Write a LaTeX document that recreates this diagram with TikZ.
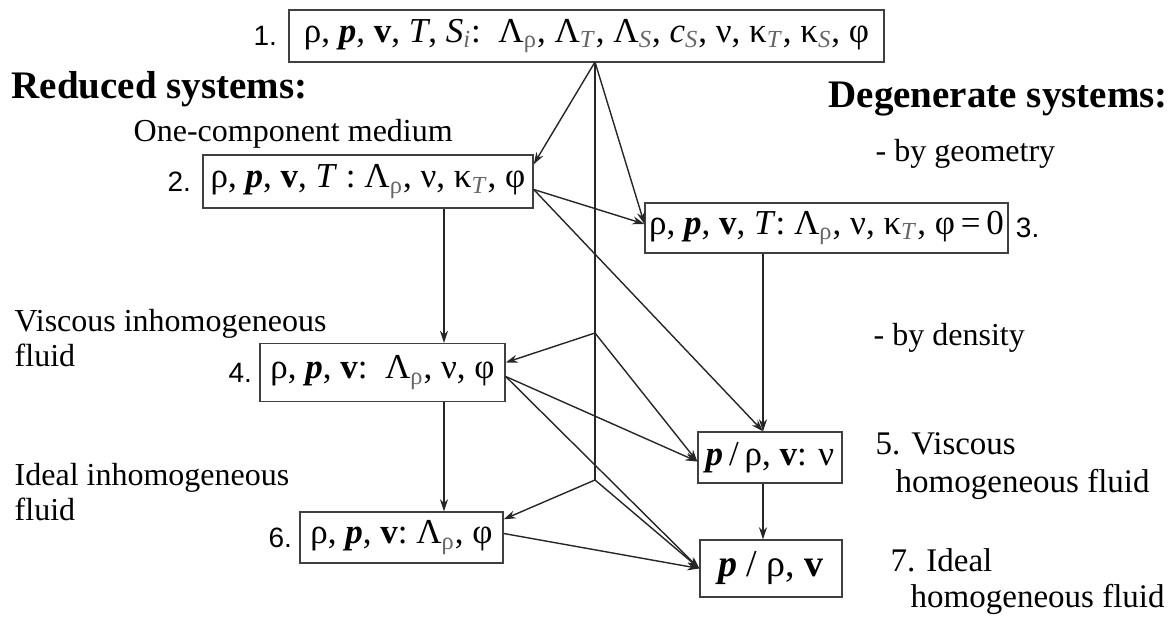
\documentclass[tikz,border=0pt]{standalone}
\usepackage{fontspec}
\setmainfont{Liberation Serif}
\newfontfamily\numfont{Liberation Sans}
\usetikzlibrary{arrows.meta}
\newcommand{\lowix}[1]{\textsubscript{\textcolor{black!60}{#1}}}
\newcommand{\bp}{\textbf{\textit{p}}}
\newcommand{\bv}{\textbf{v}}

\begin{document}
\begin{tikzpicture}[x=0.5pt,y=-0.5pt,>={Stealth[length=6pt,width=4pt]}, line width=0.7pt]
    \tikzset{
        state/.style = {draw=black!75, line width=0.7pt, rectangle, inner sep=2pt, font=\fontsize{17.5}{20}\selectfont},
        numlbl/.style = {font=\numfont\fontsize{14}{16}\selectfont},
        note/.style = {font=\fontsize{16}{18}\selectfont, inner sep=0pt, anchor=base west},
        rnote/.style = {note, font=\fontsize{16.5}{18}\selectfont},
        head/.style = {font=\bfseries\fontsize{19.5}{22}\selectfont, inner sep=0pt, anchor=base west},
        arr/.style = {->, black!85},
        spine/.style = {line width=1.3pt, black!85}
    }
    \useasboundingbox (0,0) rectangle (1168,619);

    % Headings
    \node[head] (hred) at (11,99) {Reduced systems:};
    \node[head] (hdeg) at (828,108) {Degenerate systems:};

    % Side notes
    \node[note] (tone) at (133,142) {One-component medium};
    \node[note] (tgeo) at (875,162) {- by geometry};
    \node[note] (tden) at (873,346) {- by density};
    \node[note] (tvisa) at (14,332) {Viscous inhomogeneous};
    \node[note] (tvisb) at (14,367) {fluid};
    \node[note] (tidea) at (14,486) {Ideal inhomogeneous};
    \node[note] (tideb) at (14,521) {fluid};
    \node[rnote] (tfivea) at (875,455) {5. Viscous};
    \node[rnote] (tfiveb) at (895,493) {homogeneous fluid};
    \node[rnote] (tsevena) at (890,572) {7. Ideal};
    \node[rnote] (tsevenb) at (910,608) {homogeneous fluid};

    % States
    \node[state, minimum width=297.5pt, minimum height=26pt] (n1) at (586.5,36)
        {ρ, \bp, \bv, \textit{T}, \textit{S}\lowix{\textit{i}}:\ \ Λ\lowix{ρ}, Λ\lowix{\textit{T}}, Λ\lowix{\textit{S}}, \textit{c}\lowix{\textit{S}}, ν, κ\lowix{\textit{T}}, κ\lowix{\textit{S}}, φ};
    \node[state, minimum width=165pt, minimum height=26.5pt] (n2) at (368,181.5)
        {ρ, \bp, \bv, \textit{T}\ :\ Λ\lowix{ρ}, ν, κ\lowix{\textit{T}}, φ};
    \node[state, minimum width=173.5pt, minimum height=25pt] (n3) at (826.5,228)
        {ρ, \bp, \bv, \textit{T}: Λ\lowix{ρ}, ν, κ\lowix{\textit{T}}, φ\,=\,0};
    \node[state, minimum width=122.5pt, minimum height=29pt] (n4) at (382.5,372.5)
        {ρ, \bp, \bv:\ \ Λ\lowix{ρ}, ν, φ};
    \node[state, minimum width=72pt, minimum height=25.5pt] (n5) at (770,457.5)
        {\bp\,/\,ρ, \bv: ν};
    \node[state, minimum width=101.5pt, minimum height=25.5pt] (n6) at (401.5,537.5)
        {ρ, \bp, \bv:\ Λ\lowix{ρ}, φ};
    \node[state, minimum width=71pt, minimum height=28.5pt, font=\fontsize{19}{21}\selectfont] (n7) at (771,568.5)
        {\bp\ /\ ρ,\ \bv};

    % Numbers
    \node[numlbl, anchor=east, xshift=-2pt] (l1) at (n1.west) {1.};
    \node[numlbl, anchor=east, xshift=-2pt] (l2) at (n2.west) {2.};
    \node[numlbl, anchor=west] (l3) at (n3.east) {3.};
    \node[numlbl, anchor=east] (l4) at (n4.west) {4.};
    \node[numlbl, anchor=east] (l6) at (n6.west) {6.};

    % Junction points
    \coordinate (top) at (595,62);
    \coordinate (j1) at (595,333);
    \coordinate (j2) at (595,480);
    \coordinate (lcol) at (444,0);
    \coordinate (in5) at ([xshift=-3.5pt]n5.north);

    % Spine
    \draw[spine] (top) -- (j1) -- (j2);

    % From 1
    \draw[arr] (top) -- ([yshift=-5pt]n2.north east);
    \draw[arr] (top) -- ([yshift=2pt]n3.west);

    % From 2
    \draw[arr] ([yshift=-4pt]n2.east) -- ([yshift=2pt]n3.west);
    \draw[arr] ([yshift=-4pt]n2.east) -- (in5);
    \draw[arr] (n2.south -| lcol) -- (n4.north -| lcol);

    % From 3
    \draw[arr] (n3.south -| in5) -- (in5);

    % Spine branches
    \draw[arr] (j1) -- ([yshift=5pt]n4.east);
    \draw[arr] (j1) -- ([yshift=-2pt]n5.west);
    \draw[arr] (j2) -- ([yshift=-4pt]n6.north east);
    \draw[arr] (j2) -- (n7.west);

    % From 4, 5, 6
    \draw[arr] ([yshift=-2pt]n4.east) -- ([yshift=-2pt]n5.west);
    \draw[arr] ([yshift=-2pt]n4.east) -- (n7.west);
    \draw[arr] (n4.south -| lcol) -- (n6.north -| lcol);
    \draw[arr] (n5.south -| in5) -- (n7.north -| in5);
    \draw[arr] ([yshift=2pt]n6.east) -- (n7.west);
\end{tikzpicture}
\end{document}
